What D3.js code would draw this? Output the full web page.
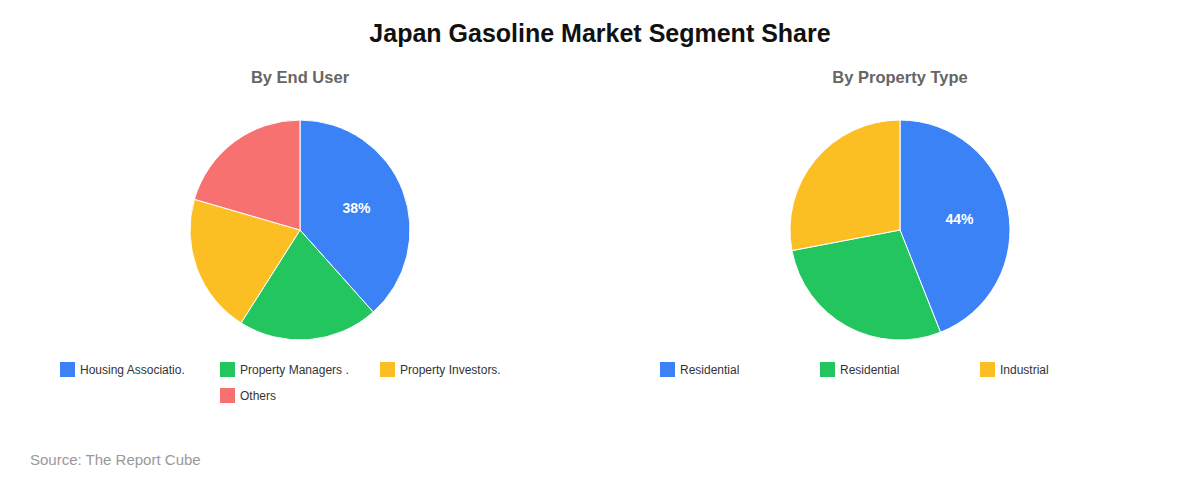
<!DOCTYPE html>
<html>
<head>
<meta charset="utf-8">
<script src="https://cdn.jsdelivr.net/npm/d3@7"></script>
<style>
  body { margin: 0; background: #fff; font-family: "Liberation Sans", Arial, sans-serif; }
</style>
</head>
<body>
<svg id="chart" width="1200" height="480"></svg>
<script>
const width = 1200,
  height = 480,
  radius = 110;

// Left pie: By End User
const endUserLabels = ['Housing Associatio.', 'Property Managers .', 'Property Investors.', 'Others'];
const endUserValues = [38.4, 20.6, 20.5, 20.5];

// Right pie: By Property Type
const propertyLabels = ['Residential', 'Residential', 'Industrial'];
const propertyValues = [44, 28, 28];

const colors = ['#3b82f6', '#22c55e', '#fbbf24', '#f87171'];

const svg = d3.select('#chart');

svg.append('rect').attr('width', width).attr('height', height).attr('fill', '#fff');

svg.append('text')
  .attr('x', width / 2).attr('y', 42)
  .attr('text-anchor', 'middle')
  .style('font-size', '25px').style('font-weight', 'bold').style('fill', '#111')
  .text('Japan Gasoline Market Segment Share');

svg.append('text')
  .attr('x', 30).attr('y', 465)
  .style('font-size', '15px').style('fill', '#999')
  .text('Source: The Report Cube');

function drawPanel(cx, title, labels, values) {
  const g = svg.append('g');

  g.append('text')
    .attr('x', cx).attr('y', 83)
    .attr('text-anchor', 'middle')
    .style('font-size', '16.5px').style('font-weight', 'bold').style('fill', '#666')
    .text(title);

  const pie = d3.pie().sort(null).value(d => d)(values);
  const arc = d3.arc().innerRadius(0).outerRadius(radius);
  const labelArc = d3.arc().innerRadius(radius * 0.55).outerRadius(radius * 0.55);
  const total = d3.sum(values);

  const pg = g.append('g').attr('transform', `translate(${cx},230)`);
  pg.selectAll('path')
    .data(pie)
    .join('path')
    .attr('d', arc)
    .attr('fill', (d, i) => colors[i])
    .attr('stroke', '#fff')
    .attr('stroke-width', 1);

  // only the big slice gets a percentage label
  pg.selectAll('text')
    .data(pie.filter(d => d.value / total > 0.3))
    .join('text')
    .attr('transform', d => `translate(${labelArc.centroid(d)})`)
    .attr('text-anchor', 'middle')
    .attr('dy', '0.35em')
    .style('font-size', '14px').style('font-weight', 'bold').style('fill', '#fff')
    .text(d => Math.round(d.value / total * 100) + '%');

  // legend: fixed-width items, wrapped 3 per row, each row centred
  const itemW = 160, perRow = 3;
  labels.forEach((lab, i) => {
    const row = Math.floor(i / perRow);
    const inRow = Math.min(perRow, labels.length - row * perRow);
    const col = i % perRow;
    const x0 = cx - inRow * itemW / 2 + col * itemW;
    const y0 = 362 + row * 26;
    g.append('rect')
      .attr('x', x0).attr('y', y0)
      .attr('width', 15).attr('height', 15)
      .attr('fill', colors[i]);
    g.append('text')
      .attr('x', x0 + 20).attr('y', y0 + 12)
      .style('font-size', '12px').style('fill', '#333')
      .text(lab);
  });
}

drawPanel(300, 'By End User', endUserLabels, endUserValues);
drawPanel(900, 'By Property Type', propertyLabels, propertyValues);
</script>
</body>
</html>
